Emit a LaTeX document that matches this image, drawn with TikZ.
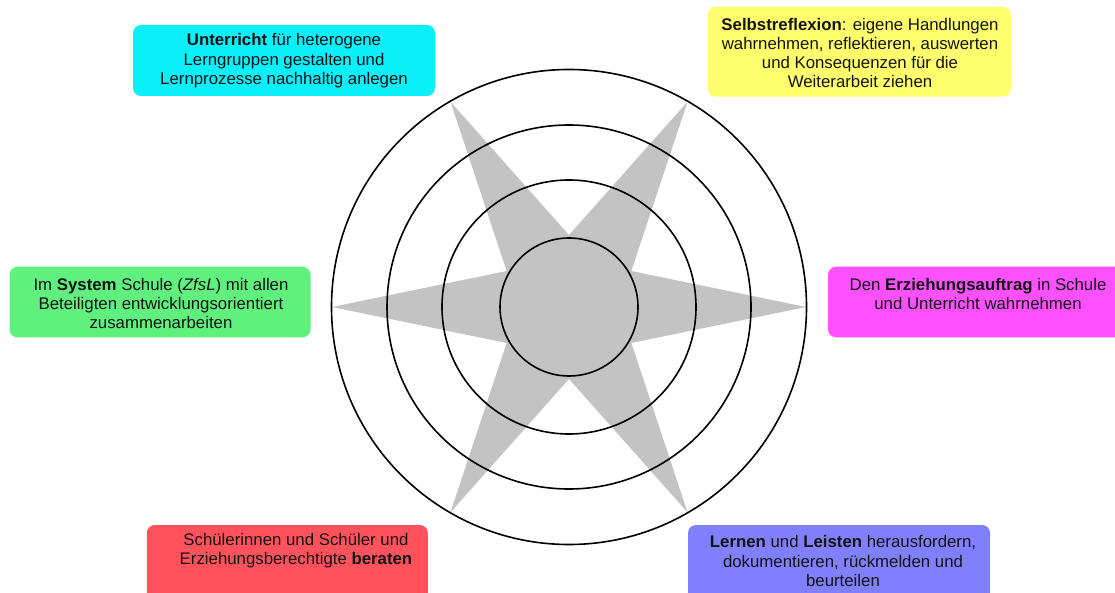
\documentclass[tikz,border=0pt]{standalone}
\usepackage{fontspec}
\setmainfont{Liberation Sans}
\definecolor{ccyan}{RGB}{10,240,250}
\definecolor{cyellow}{RGB}{255,255,110}
\definecolor{cgreen}{RGB}{95,240,125}
\definecolor{cmagenta}{RGB}{255,80,255}
\definecolor{cred}{RGB}{255,82,92}
\definecolor{cblue}{RGB}{128,128,255}
\definecolor{stargray}{RGB}{195,195,195}
\definecolor{txtcol}{RGB}{20,20,20}
\begin{document}
\begin{tikzpicture}[x=1pt,y=-1pt,
  box/.style={draw=none, rounded corners=8pt, inner sep=0pt, rectangle},
  txt/.style={align=center, text=txtcol, font=\fontsize{16.8}{19.2}\selectfont, inner sep=0pt},
  ring/.style={circle, draw=black, line width=1.6pt, inner sep=0pt}]
\useasboundingbox (0,0) rectangle (1115,593);
\clip (0,0) rectangle (1115,593);

% star
\coordinate (O) at (569,307);
\begin{scope}[shift={(O)}]
\fill[stargray] (0:237) -- (30:72) -- (60:237) -- (90:72) -- (120:237) -- (150:72)
  -- (180:237) -- (210:72) -- (240:237) -- (270:72) -- (300:237) -- (330:72) -- cycle;
\end{scope}

% circles
\node[ring, minimum size=475pt] (c1) at (O) {};
\node[ring, minimum size=364pt] (c2) at (O) {};
\node[ring, minimum size=254pt] (c3) at (O) {};
\node[ring, fill=stargray, minimum size=138pt] (c4) at (O) {};

% boxes
\node[box, fill=ccyan, minimum width=302pt, minimum height=71pt] (b1) at (284,60.5) {};
\node[box, fill=cyellow, minimum width=303pt, minimum height=90pt] (b2) at (859.3,51.7) {};
\node[box, fill=cgreen, minimum width=301pt, minimum height=70.6pt] (b3) at (160,302) {};
\node[box, fill=cmagenta, minimum width=300pt, minimum height=70.6pt] (b4) at (978,302) {};
\node[box, fill=cred, minimum width=281pt, minimum height=85pt] (b5) at (287.3,567.5) {};
\node[box, fill=cblue, minimum width=302pt, minimum height=85pt] (b6) at (839,567.5) {};

% texts
\node[txt] (t1) at (284,60.7) {\textbf{Unterricht} für heterogene\\Lerngruppen gestalten und\\Lernprozesse nachhaltig anlegen};
\node[txt] (t2) at (860,53) {\textbf{Selbstreflexion}: eigene Handlungen\\wahrnehmen, reflektieren, auswerten\\und Konsequenzen für die\\Weiterarbeit ziehen};
\node[txt] (t3) at (161,303.5) {Im \textbf{System} Schule (\textit{ZfsL}) mit allen\\Beteiligten entwicklungsorientiert\\zusammenarbeiten};
\node[txt] (t4) at (978,294) {Den \textbf{Erziehungsauftrag} in Schule\\und Unterricht wahrnehmen};
\node[txt] (t5) at (296,551) {Schülerinnen und Schüler und\\Erziehungsberechtigte \textbf{beraten}};
\node[txt] (t6) at (843,561) {\textbf{Lernen} und \textbf{Leisten} herausfordern,\\dokumentieren, rückmelden und\\beurteilen};
\end{tikzpicture}
\end{document}
